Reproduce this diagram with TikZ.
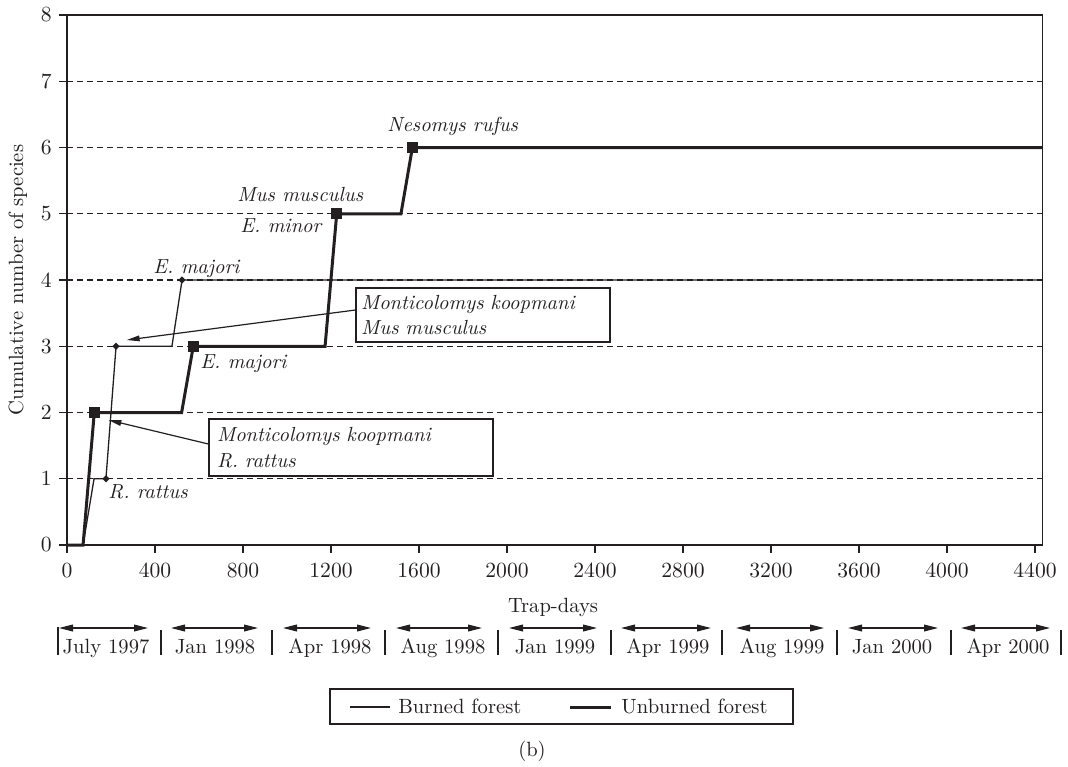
\documentclass[tikz,border=0pt]{standalone}
\usetikzlibrary{arrows.meta,shapes.geometric}
\definecolor{ink}{HTML}{231F20}
\begin{document}
\begin{tikzpicture}[x=0.5pt,y=-0.5pt,
  every node/.style={text=ink},
  font=\fontsize{10.3}{12.7}\selectfont,
  ticklbl/.style={inner sep=0pt,font=\fontsize{10.8}{12.7}\selectfont},
  axisln/.style={draw=ink,line width=0.65pt},
  thinln/.style={draw=ink,line width=0.65pt,line join=miter},
  thickln/.style={draw=ink,line width=1.5pt,line join=miter},
  gridln/.style={draw=ink,line width=0.6pt,dash pattern=on 3pt off 2pt},
  lbl/.style={inner sep=0pt,anchor=base west,font=\fontsize{10.2}{12.7}\selectfont\itshape},
  sq/.style={rectangle,fill=ink,minimum size=5.5pt,inner sep=0pt},
  dia/.style={diamond,fill=ink,minimum size=3.8pt,inner sep=0pt},
  annbox/.style={draw=ink,line width=0.6pt,align=left,inner ysep=0pt,
    font=\fontsize{10.2}{12.7}\selectfont\itshape},
  annarrow/.style={draw=ink,line width=0.6pt,-{Triangle[length=6.5pt,width=2.8pt]}},
  mtharrow/.style={draw=ink,line width=0.6pt,{Triangle[length=7pt,width=3.4pt]}-{Triangle[length=7pt,width=3.4pt]}},
  sepln/.style={draw=ink,line width=0.6pt}
]
\useasboundingbox (0,0) rectangle (1068,766);

% ---------------- data frame ----------------
\begin{scope}[shift={(67,545)},x=0.11pt,y=33.125pt]
  \foreach \k in {1,...,7} \draw[gridln] (0,\k) -- (4435,\k);
  \draw[axisln] (0,0) -- (0,8) -- (4435,8) -- (4435,0) -- cycle;
  \foreach \k in {0,...,8} {
    \draw[axisln] (0,\k) -- ++(-4pt,0pt);
    \node[ticklbl,anchor=east] (yl\k) at ([xshift=-7.5pt]0,\k) {\k};
  }
  \foreach \t in {0,400,...,4400} {
    \draw[axisln] (\t,0) -- ++(0pt,-4pt);
    \node[ticklbl,anchor=base] (xl\t) at ([yshift=-16pt]\t,0) {\t};
  }
  % burned forest (thin)
  \draw[thinln] (0,0) -- (73,0) -- (123,1) -- (177,1) -- (223,3) -- (477,3) -- (523,4) -- (4435,4);
  \node[dia] (b1) at (177,1) {};
  \node[dia] (b3) at (223,3) {};
  \node[dia] (b4) at (523,4) {};
  % unburned forest (thick)
  \draw[thickln] (0,0) -- (73,0) -- (124,2) -- (521,2) -- (574,3) -- (1173,3) -- (1226,5) -- (1518,5) -- (1570,6) -- (4435,6);
  \node[sq] (u2) at (124,2) {};
  \node[sq] (u3) at (574,3) {};
  \node[sq] (u5) at (1226,5) {};
  \node[sq] (u6) at (1570,6) {};
  \coordinate (tipA) at (271,3.094);
  \coordinate (tipB) at (188,1.887);
\end{scope}

% axis titles
\node[rotate=90,anchor=base,inner sep=0pt] (ytitle) at (23,280) {Cumulative number of species};
\node[anchor=base,inner sep=0pt] (xtitle) at (553,612) {Trap-days};

% species labels
\node[lbl] (lnes) at (387,131) {Nesomys rufus};
\node[lbl] (lmus) at (237,201.5) {Mus musculus};
\node[lbl] (lmin) at (240,232) {E. minor};
\node[lbl] (lmaj1) at (153,273) {E. majori};
\node[lbl] (lmaj2) at (200,368) {E. majori};
\node[lbl] (lrat) at (108,498) {R. rattus};

% annotation boxes
\node[annbox,inner xsep=2.5pt,text width=122pt,minimum height=27pt] (boxA) at (483,315)
  {Monticolomys koopmani\\Mus musculus};
\node[annbox,inner xsep=4pt,text width=134pt,minimum height=28.5pt] (boxB) at (351,447.5)
  {Monticolomys koopmani\\R. rattus};
\draw[annarrow] ([yshift=2.5pt]boxA.west) -- (tipA);
\draw[annarrow] ([yshift=1.75pt]boxB.west) -- (tipB);

% month row
\draw[sepln] (58,627) -- (58,655);
\foreach \s in {161,272,385,498,611,722,837,951,1061} \draw[sepln] (\s,630) -- (\s,655);
\foreach \a/\b/\c/\i/\txt in {59/148/106/1/July 1997, 171/258/215/2/Jan 1998, 283/371/330/3/Apr 1998,
   396/482/443/4/Aug 1998, 509/597/555/5/Jan 1999, 621/711/668/6/Apr 1999,
   736/824/782/7/Aug 1999, 848/938/892/8/Jan 2000, 961/1050/1008/9/Apr 2000} {
  \draw[mtharrow] (\a,628) -- (\b,628);
  \node[anchor=base,inner sep=0pt] (m\i) at (\c,653) {\txt};
}

% legend
\node[draw=ink,line width=0.6pt,minimum width=231.5pt,minimum height=17.5pt,inner sep=0pt] (legend) at (561.5,706.5) {};
\draw[thinln] (350,707) -- (390,707);
\node[anchor=base west,inner sep=0pt] (lgb) at (398,713) {Burned forest};
\draw[thickln] (570,707) -- (611,707);
\node[anchor=base west,inner sep=0pt] (lgu) at (621,713) {Unburned forest};

\node[anchor=base,inner sep=0pt] (cap) at (532,756) {(b)};
\end{tikzpicture}
\end{document}
